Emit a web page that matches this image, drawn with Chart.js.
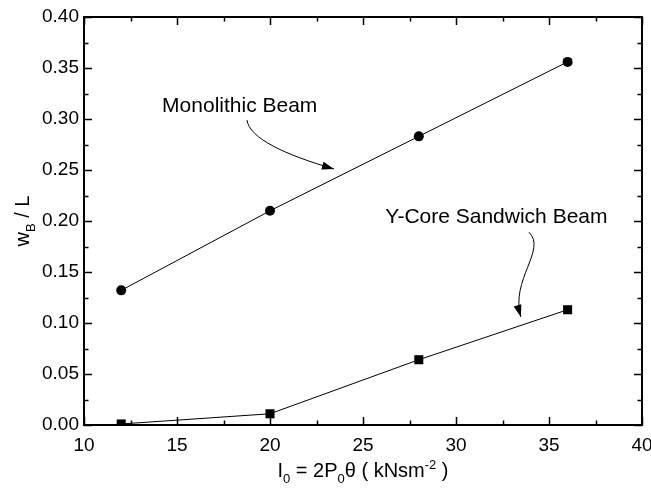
<!DOCTYPE html>
<html>
<head>
<meta charset="utf-8">
<script src="https://cdn.jsdelivr.net/npm/chart.js@4.4.1/dist/chart.umd.min.js"></script>
<style>
  html, body { margin: 0; padding: 0; background: #fff; }
  #wrap { width: 651px; height: 492px; position: relative; }
</style>
</head>
<body>
<div id="wrap"><canvas id="chart"></canvas></div>
<script>
// chart data
const impulse = [12, 20, 28, 36];
const monolithic = [0.132, 0.210, 0.283, 0.356];
const sandwich = [0.001, 0.011, 0.064, 0.113];
const xTicks = [10, 15, 20, 25, 30, 35, 40];
const yTicks = [0, 0.05, 0.10, 0.15, 0.20, 0.25, 0.30, 0.35, 0.40];

const FONT = '"Liberation Sans", Arial, sans-serif';

function toPoints(xs, ys) {
    return xs.map((x, i) => ({ x: x, y: ys[i] }));
}

// annotations are anchored in data units and placed through the scales
const labels = [
    { text: 'Monolithic Beam', x: 14.2, y: 0.307,
      arrow: [[18.76, 0.299], [18.9, 0.281], [20.8, 0.265], [23.44, 0.251]] },
    { text: 'Y-Core Sandwich Beam', x: 26.2, y: 0.198,
      arrow: [[33.92, 0.189], [34.9, 0.172], [32.9, 0.142], [33.49, 0.106]] }
];

// draw text made of pieces with sub/superscripts
function drawRich(ctx, parts, size) {
    const small = Math.round(size * 0.65);
    let total = 0;
    parts.forEach(p => {
        ctx.font = (p.sub || p.sup ? small : size) + 'px ' + FONT;
        p.w = ctx.measureText(p.t).width;
        total += p.w;
    });
    let x = -total / 2;
    parts.forEach(p => {
        ctx.font = (p.sub || p.sup ? small : size) + 'px ' + FONT;
        let dy = 0;
        if (p.sub) dy = size * 0.3;
        if (p.sup) dy = -size * 0.4;
        ctx.fillText(p.t, x, dy);
        x += p.w;
    });
}

const framePlugin = {
    id: 'frame',
    afterDatasetsDraw(chart) {
        const ctx = chart.ctx;
        const a = chart.chartArea;
        const xs = chart.scales.x;
        const ys = chart.scales.y;
        ctx.save();
        ctx.strokeStyle = '#000';
        ctx.fillStyle = '#000';

        // inward ticks on all four sides
        ctx.lineWidth = 1.5;
        ctx.beginPath();
        for (let v = 10; v <= 40; v += 2.5) {
            const px = Math.round(xs.getPixelForValue(v)) + 0.5;
            const len = (v % 5 === 0) ? 8 : 4.5;
            ctx.moveTo(px, a.bottom); ctx.lineTo(px, a.bottom - len);
            ctx.moveTo(px, a.top); ctx.lineTo(px, a.top + len);
        }
        for (let i = 0; i <= 16; i++) {
            const v = i * 0.025;
            const py = Math.round(ys.getPixelForValue(v)) + 0.5;
            const len = (i % 2 === 0) ? 8 : 4.5;
            ctx.moveTo(a.left, py); ctx.lineTo(a.left + len, py);
            ctx.moveTo(a.right, py); ctx.lineTo(a.right - len, py);
        }
        ctx.stroke();

        // frame
        ctx.lineWidth = 2;
        ctx.strokeRect(a.left, a.top, a.right - a.left, a.bottom - a.top);

        // annotations with curved arrows
        ctx.font = '21px ' + FONT;
        ctx.textBaseline = 'alphabetic';
        ctx.textAlign = 'left';
        labels.forEach(l => {
            ctx.fillText(l.text, xs.getPixelForValue(l.x), ys.getPixelForValue(l.y));
            const p = l.arrow.map(q => [xs.getPixelForValue(q[0]), ys.getPixelForValue(q[1])]);
            ctx.lineWidth = 1;
            ctx.beginPath();
            ctx.moveTo(p[0][0], p[0][1]);
            ctx.bezierCurveTo(p[1][0], p[1][1], p[2][0], p[2][1], p[3][0], p[3][1]);
            ctx.stroke();
            // arrow head along last tangent
            const ang = Math.atan2(p[3][1] - p[2][1], p[3][0] - p[2][0]);
            const hl = 12, hw = 4;
            ctx.beginPath();
            ctx.moveTo(p[3][0], p[3][1]);
            ctx.lineTo(p[3][0] - hl * Math.cos(ang) + hw * Math.sin(ang),
                       p[3][1] - hl * Math.sin(ang) - hw * Math.cos(ang));
            ctx.lineTo(p[3][0] - hl * Math.cos(ang) - hw * Math.sin(ang),
                       p[3][1] - hl * Math.sin(ang) + hw * Math.cos(ang));
            ctx.closePath();
            ctx.fill();
        });

        // axis titles
        ctx.textAlign = 'left';
        ctx.save();
        ctx.translate((a.left + a.right) / 2, 477);
        drawRich(ctx, [
            { t: 'I' }, { t: '0', sub: true }, { t: ' = 2P' }, { t: '0', sub: true },
            { t: '\u03B8 ( kNsm' }, { t: '-2', sup: true }, { t: ' )' }
        ], 20);
        ctx.restore();

        ctx.save();
        ctx.translate(29, (a.top + a.bottom) / 2);
        ctx.rotate(-Math.PI / 2);
        drawRich(ctx, [{ t: 'w' }, { t: 'B', sub: true }, { t: ' / L' }], 20);
        ctx.restore();

        ctx.restore();
    }
};

new Chart(document.getElementById('chart'), {
    type: 'scatter',
    data: {
        datasets: [
            {
                label: 'Monolithic Beam',
                data: toPoints(impulse, monolithic),
                showLine: true,
                borderColor: '#000',
                backgroundColor: '#000',
                borderWidth: 1,
                pointStyle: 'circle',
                pointRadius: 5,
                pointBorderWidth: 0
            },
            {
                label: 'Y-Core Sandwich Beam',
                data: toPoints(impulse, sandwich),
                showLine: true,
                borderColor: '#000',
                backgroundColor: '#000',
                borderWidth: 1,
                pointStyle: 'rect',
                pointRadius: 6.4,
                pointBorderWidth: 0
            }
        ]
    },
    options: {
        responsive: true,
        maintainAspectRatio: false,
        animation: false,
        layout: { autoPadding: false, padding: { left: 0, top: 17, right: 9, bottom: 0 } },
        plugins: {
            legend: { display: false },
            tooltip: { enabled: false }
        },
        scales: {
            x: {
                type: 'linear',
                min: 10, max: 40,
                afterFit(scale) {
                    scale.height = 67;
                    scale.paddingLeft = 0;
                    scale.paddingRight = 0;
                },
                afterBuildTicks(scale) { scale.ticks = xTicks.map(v => ({ value: v })); },
                grid: { display: false, drawTicks: false },
                border: { display: false },
                ticks: {
                    color: '#000',
                    padding: 9,
                    font: { family: FONT, size: 19 },
                    maxRotation: 0
                }
            },
            y: {
                type: 'linear',
                min: 0, max: 0.4,
                afterFit(scale) {
                    scale.width = 84;
                    scale.paddingTop = 0;
                    scale.paddingBottom = 0;
                },
                afterBuildTicks(scale) { scale.ticks = yTicks.map(v => ({ value: v })); },
                grid: { display: false, drawTicks: false },
                border: { display: false },
                ticks: {
                    color: '#000',
                    padding: 5,
                    font: { family: FONT, size: 19 },
                    callback: v => Number(v).toFixed(2)
                }
            }
        }
    },
    plugins: [framePlugin]
});
</script>
</body>
</html>
